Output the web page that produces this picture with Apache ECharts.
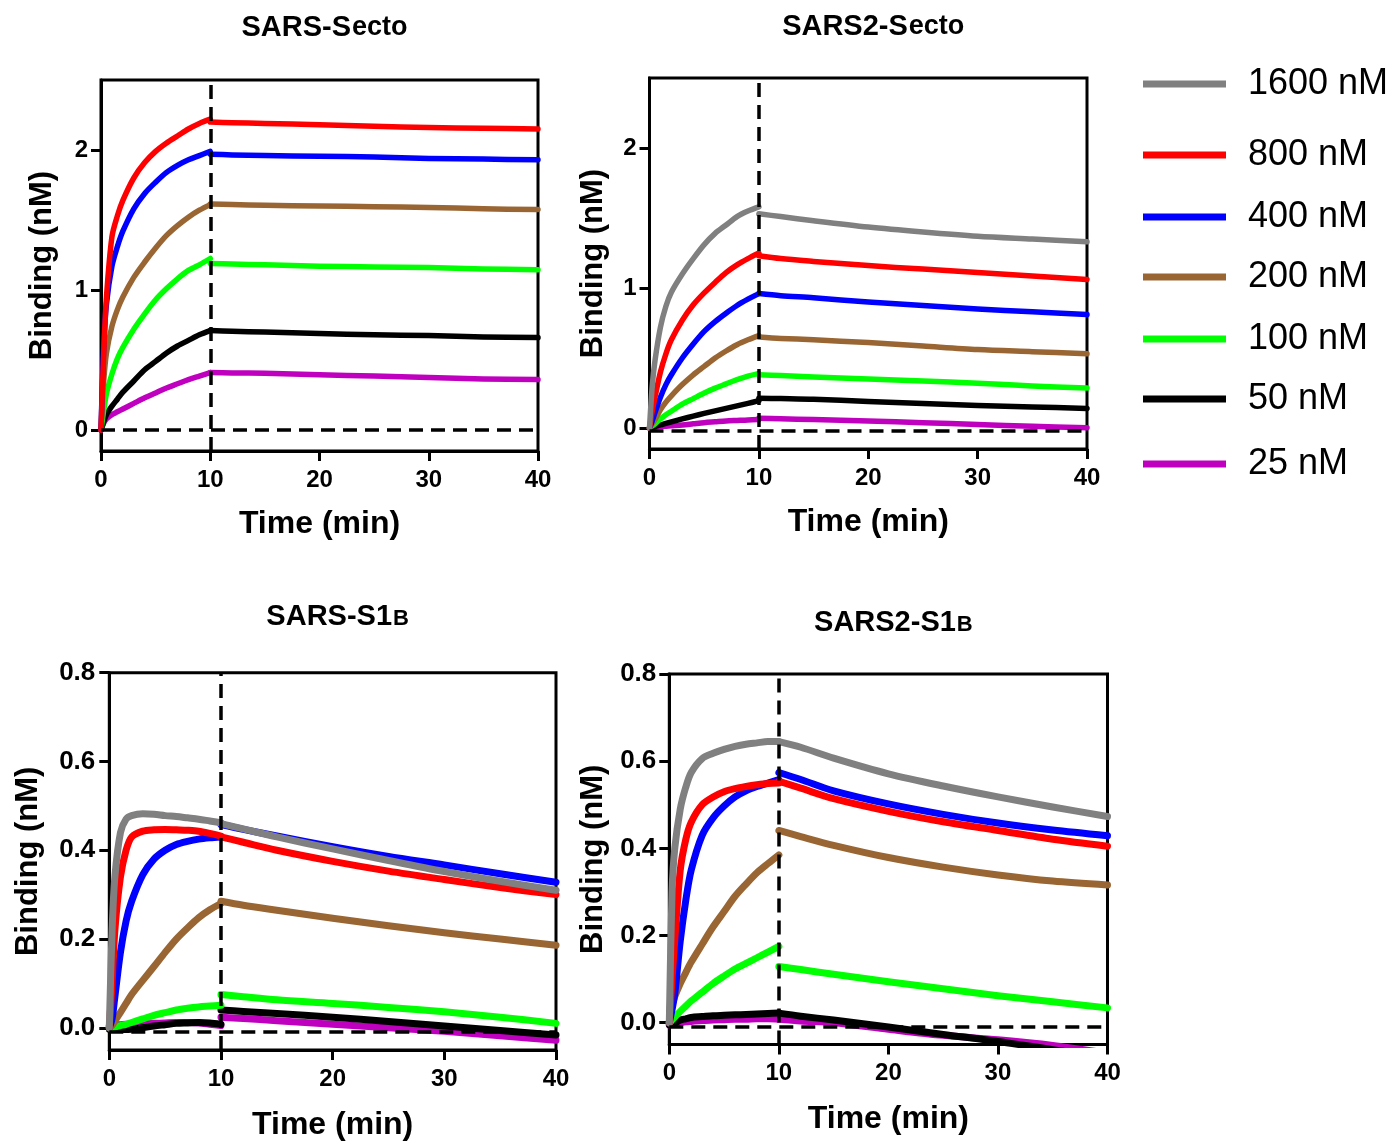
<!DOCTYPE html>
<html><head><meta charset="utf-8">
<script src="https://cdn.jsdelivr.net/npm/echarts@6/dist/echarts.min.js"></script>
<style>html,body{margin:0;padding:0;background:#fff}#c{width:1396px;height:1142px}</style>
</head><body><div id="c"></div>
<script>
// ---------- DATA ----------
const concentrations = ['1600 nM', '800 nM', '400 nM', '200 nM', '100 nM', '50 nM', '25 nM'];
const timeOn  = [0, 0.25, 0.5, 1, 1.5, 2, 3, 4, 5, 6, 7, 8, 9, 10];   // association phase (min)
const timeOff = [10, 12, 15, 20, 25, 30, 35, 40];                     // dissociation phase (min)
const xTicks = [0, 10, 20, 30, 40];
const yTicksSecto = [0, 1, 2];
const yTicksS1B = [0, 0.2, 0.4, 0.6, 0.8];
const injectionEnd = 10;
const baselines = [0, -0.02, -0.01, -0.01];

// Panel 1: SARS-Secto (no 1600 nM)
const p1On800  = [0, 0.55, 0.95, 1.38, 1.53, 1.64, 1.80, 1.91, 1.99, 2.05, 2.10, 2.15, 2.19, 2.22];
const p1Off800 = [2.20, 2.195, 2.19, 2.18, 2.17, 2.16, 2.155, 2.15];
const p1On400  = [0, 0.60, 0.90, 1.17, 1.31, 1.42, 1.58, 1.69, 1.77, 1.84, 1.89, 1.93, 1.96, 1.99];
const p1Off400 = [1.97, 1.965, 1.96, 1.955, 1.95, 1.94, 1.935, 1.93];
const p1On200  = [0, 0.35, 0.55, 0.74, 0.86, 0.95, 1.09, 1.20, 1.30, 1.39, 1.46, 1.52, 1.57, 1.61];
const p1Off200 = [1.615, 1.61, 1.605, 1.60, 1.595, 1.59, 1.58, 1.575];
const p1On100  = [0, 0.14, 0.26, 0.40, 0.51, 0.59, 0.72, 0.83, 0.93, 1.01, 1.08, 1.14, 1.18, 1.225];
const p1Off100 = [1.19, 1.185, 1.18, 1.17, 1.165, 1.16, 1.15, 1.145];
const p1On50   = [0, 0.06, 0.11, 0.17, 0.22, 0.27, 0.35, 0.43, 0.49, 0.55, 0.60, 0.64, 0.68, 0.71];
const p1Off50  = [0.71, 0.705, 0.70, 0.69, 0.68, 0.675, 0.665, 0.66];
const p1On25   = [0, 0.05, 0.08, 0.11, 0.13, 0.15, 0.19, 0.23, 0.265, 0.30, 0.33, 0.36, 0.385, 0.41];
const p1Off25  = [0.41, 0.408, 0.405, 0.395, 0.385, 0.375, 0.365, 0.36];

// Panel 2: SARS2-Secto
const p2On1600  = [0, 0.30, 0.48, 0.72, 0.87, 0.97, 1.10, 1.21, 1.31, 1.39, 1.45, 1.51, 1.55, 1.58];
const p2Off1600 = [1.53, 1.51, 1.48, 1.435, 1.40, 1.37, 1.35, 1.33];
const p2On800   = [0, 0.12, 0.22, 0.40, 0.53, 0.63, 0.77, 0.88, 0.965, 1.04, 1.11, 1.165, 1.21, 1.25];
const p2Off800  = [1.23, 1.21, 1.19, 1.16, 1.135, 1.11, 1.085, 1.06];
const p2On400   = [0, 0.05, 0.11, 0.22, 0.31, 0.38, 0.50, 0.60, 0.69, 0.76, 0.82, 0.875, 0.92, 0.96];
const p2Off400  = [0.96, 0.945, 0.93, 0.90, 0.875, 0.85, 0.83, 0.81];
const p2On200   = [0, 0.03, 0.06, 0.13, 0.185, 0.23, 0.31, 0.38, 0.44, 0.50, 0.55, 0.595, 0.63, 0.66];
const p2Off200  = [0.65, 0.64, 0.63, 0.61, 0.585, 0.56, 0.545, 0.53];
const p2On100   = [0, 0.015, 0.03, 0.065, 0.095, 0.12, 0.17, 0.21, 0.25, 0.285, 0.315, 0.345, 0.37, 0.39];
const p2Off100  = [0.38, 0.375, 0.365, 0.35, 0.335, 0.32, 0.30, 0.285];
const p2On50    = [0, 0.005, 0.01, 0.022, 0.033, 0.044, 0.065, 0.085, 0.104, 0.122, 0.14, 0.158, 0.176, 0.195];
const p2Off50   = [0.213, 0.21, 0.205, 0.19, 0.175, 0.16, 0.15, 0.14];
const p2On25    = [0, 0.003, 0.006, 0.01, 0.013, 0.016, 0.022, 0.03, 0.038, 0.044, 0.05, 0.054, 0.058, 0.06];
const p2Off25   = [0.07, 0.066, 0.06, 0.05, 0.038, 0.025, 0.012, 0.002];

// Panel 3: SARS-S1B
const p3On1600  = [0, 0.22, 0.34, 0.44, 0.47, 0.478, 0.482, 0.481, 0.478, 0.476, 0.473, 0.47, 0.466, 0.462];
const p3Off1600 = [0.46, 0.448, 0.43, 0.403, 0.377, 0.352, 0.33, 0.31];
const p3On800   = [0, 0.10, 0.22, 0.34, 0.40, 0.43, 0.443, 0.446, 0.447, 0.446, 0.445, 0.443, 0.438, 0.432];
const p3Off800  = [0.43, 0.418, 0.40, 0.375, 0.353, 0.334, 0.316, 0.30];
const p3On400   = [0, 0.02, 0.07, 0.17, 0.24, 0.285, 0.345, 0.38, 0.40, 0.413, 0.42, 0.425, 0.428, 0.43];
const p3Off400  = [0.458, 0.447, 0.432, 0.408, 0.386, 0.367, 0.347, 0.328];
const p3On200   = [0, 0.005, 0.015, 0.035, 0.055, 0.075, 0.107, 0.138, 0.17, 0.20, 0.225, 0.248, 0.266, 0.28];
const p3Off200  = [0.285, 0.276, 0.265, 0.247, 0.23, 0.214, 0.20, 0.186];
const p3On100   = [0, 0, 0.002, 0.005, 0.008, 0.012, 0.02, 0.028, 0.034, 0.04, 0.044, 0.047, 0.049, 0.051];
const p3Off100  = [0.075, 0.07, 0.063, 0.055, 0.046, 0.036, 0.024, 0.01];
const p3On50    = [-0.003, -0.003, -0.004, -0.004, -0.004, -0.003, 0.0, 0.004, 0.007, 0.01, 0.011, 0.012, 0.011, 0.008];
const p3Off50   = [0.04, 0.037, 0.032, 0.024, 0.014, 0.004, -0.006, -0.016];
const p3On25    = [0.004, 0.005, 0.006, 0.007, 0.008, 0.008, 0.009, 0.01, 0.011, 0.012, 0.012, 0.011, 0.008, 0.005];
const p3Off25   = [0.024, 0.021, 0.016, 0.008, 0.0, -0.008, -0.018, -0.028];

// Panel 4: SARS2-S1B
const p4On1600  = [0, 0.30, 0.40, 0.49, 0.54, 0.574, 0.606, 0.618, 0.627, 0.634, 0.639, 0.642, 0.645, 0.645];
const p4Off1600 = [0.645, 0.632, 0.607, 0.571, 0.543, 0.518, 0.495, 0.473];
const p4On800   = [0, 0.10, 0.19, 0.35, 0.42, 0.46, 0.50, 0.518, 0.53, 0.537, 0.542, 0.546, 0.549, 0.55];
const p4Off800  = [0.554, 0.538, 0.514, 0.485, 0.461, 0.441, 0.421, 0.405];
const p4On400   = [0, 0.03, 0.066, 0.187, 0.28, 0.35, 0.43, 0.47, 0.497, 0.518, 0.532, 0.542, 0.55, 0.558];
const p4Off400  = [0.574, 0.558, 0.532, 0.502, 0.478, 0.458, 0.442, 0.429];
const p4On200   = [0, 0.04, 0.06, 0.09, 0.115, 0.139, 0.18, 0.22, 0.255, 0.29, 0.318, 0.344, 0.365, 0.385];
const p4Off200  = [0.441, 0.427, 0.407, 0.379, 0.357, 0.339, 0.325, 0.316];
const p4On100   = [0, 0.006, 0.013, 0.026, 0.038, 0.05, 0.07, 0.09, 0.107, 0.123, 0.136, 0.149, 0.162, 0.175];
const p4Off100  = [0.129, 0.122, 0.111, 0.094, 0.078, 0.062, 0.048, 0.034];
const p4On50    = [-0.005, -0.004, -0.002, 0.006, 0.009, 0.012, 0.014, 0.016, 0.017, 0.018, 0.019, 0.02, 0.021, 0.022];
const p4Off50   = [0.022, 0.015, 0.006, -0.01, -0.027, -0.043, -0.062, -0.08];
const p4On25    = [-0.005, -0.004, -0.002, 0.0, 0.002, 0.003, 0.005, 0.006, 0.007, 0.008, 0.008, 0.009, 0.009, 0.008];
const p4Off25   = [0.008, 0.004, 0.0, -0.015, -0.029, -0.039, -0.052, -0.07];

// ---------- STYLE / LAYOUT ----------
const FONT = '"Liberation Sans", Arial, Helvetica, sans-serif';
const colors = {'1600 nM':'#808080','800 nM':'#ff0000','400 nM':'#0000ff','200 nM':'#996633','100 nM':'#00ff00','50 nM':'#000000','25 nM':'#bf00bf'};

const panels = [
  { title: ['SARS-S', 'ecto'], grid: {left:101, top:80, width:437, height:371}, y:[-0.15, 2.5], yTicks: yTicksSecto, lw:5.5, fmt: v => String(v), yGap:43, yMargin:13, xNameGap:57, titleTop:8,
    data: {'800 nM':[p1On800,p1Off800],'400 nM':[p1On400,p1Off400],'200 nM':[p1On200,p1Off200],'100 nM':[p1On100,p1Off100],'50 nM':[p1On50,p1Off50],'25 nM':[p1On25,p1Off25]} },
  { title: ['SARS2-S', 'ecto'], grid: {left:649.5, top:78, width:437.5, height:371}, y:[-0.15, 2.5], yTicks: yTicksSecto, lw:5.5, fmt: v => String(v), yGap:41, yMargin:13, xNameGap:57, titleTop:7,
    data: {'1600 nM':[p2On1600,p2Off1600],'800 nM':[p2On800,p2Off800],'400 nM':[p2On400,p2Off400],'200 nM':[p2On200,p2Off200],'100 nM':[p2On100,p2Off100],'50 nM':[p2On50,p2Off50],'25 nM':[p2On25,p2Off25]} },
  { title: ['SARS-S1', 'B'], grid: {left:109.3, top:672.7, width:446.7, height:378.3}, y:[-0.05, 0.8], yTicks: yTicksS1B, lw:7, fmt: v => v.toFixed(1), yGap:65, yMargin:14, xNameGap:59, titleTop:597,
    data: {'1600 nM':[p3On1600,p3Off1600],'800 nM':[p3On800,p3Off800],'400 nM':[p3On400,p3Off400],'200 nM':[p3On200,p3Off200],'100 nM':[p3On100,p3Off100],'50 nM':[p3On50,p3Off50],'25 nM':[p3On25,p3Off25]} },
  { title: ['SARS2-S1', 'B'], grid: {left:669.3, top:674, width:438.2, height:370.5}, y:[-0.05, 0.8], yTicks: yTicksS1B, lw:7, fmt: v => v.toFixed(1), yGap:60, yMargin:13, xNameGap:59, titleTop:603,
    data: {'1600 nM':[p4On1600,p4Off1600],'800 nM':[p4On800,p4Off800],'400 nM':[p4On400,p4Off400],'200 nM':[p4On200,p4Off200],'100 nM':[p4On100,p4Off100],'50 nM':[p4On50,p4Off50],'25 nM':[p4On25,p4Off25]} }
];

const grids = [], xAxes = [], yAxes = [], series = [], titles = [];
const drawOrder = concentrations.slice().reverse(); // 25 nM first, 1600 nM on top

panels.forEach((p, i) => {
  grids.push(Object.assign({show:true, borderColor:'#000', borderWidth:3, backgroundColor:'transparent', containLabel:false}, p.grid));
  xAxes.push({
    gridIndex:i, type:'value', min:0, max:40, interval:10,
    axisLine:{show:true, onZero:false, lineStyle:{color:'#000', width:3}},
    axisTick:{show:true, length:10, lineStyle:{color:'#000', width:3}, customValues: xTicks},
    axisLabel:{color:'#000', fontSize:24, fontWeight:'bold', fontFamily:FONT, margin:17, customValues: xTicks},
    splitLine:{show:false},
    name:'Time (min)', nameLocation:'middle', nameGap:p.xNameGap,
    nameTextStyle:{color:'#000', fontSize:32, fontWeight:'bold', fontFamily:FONT}
  });
  yAxes.push({
    gridIndex:i, type:'value', min:p.y[0], max:p.y[1],
    axisLine:{show:true, onZero:false, lineStyle:{color:'#000', width:3}},
    axisTick:{show:true, length:10, lineStyle:{color:'#000', width:3}, customValues: p.yTicks},
    axisLabel:{color:'#000', fontSize: i < 2 ? 24 : 26, fontWeight:'bold', fontFamily:FONT, margin:p.yMargin, customValues: p.yTicks, formatter: p.fmt},
    splitLine:{show:false},
    name:'Binding (nM)', nameLocation:'middle', nameGap:p.yGap, nameRotate:90,
    nameTextStyle:{color:'#000', fontSize:31, fontWeight:'bold', fontFamily:FONT}
  });
  const cx = p.grid.left + p.grid.width / 2;
  const small = p.title[1] === 'B' ? 22 : 27;
  titles.push({
    text: '{a|' + p.title[0] + '}{b|' + p.title[1] + '}',
    left: cx, top: p.titleTop, textAlign:'center',
    textStyle:{ rich:{
      a:{fontSize:29, fontWeight:'bold', color:'#000', fontFamily:FONT, verticalAlign:'bottom'},
      b:{fontSize:small, fontWeight:'bold', color:'#000', fontFamily:FONT, verticalAlign:'bottom', padding:[0,0,1,1]}
    }}
  });
  drawOrder.forEach(c => {
    const d = p.data[c];
    if (!d) return;
    [[timeOn, d[0]], [timeOff, d[1]]].forEach(([ts, vs]) => {
      series.push({
        type:'line', name:c, xAxisIndex:i, yAxisIndex:i,
        data: ts.map((t, k) => [t, vs[k]]),
        showSymbol:false, symbol:'none', smooth:0.3, clip:true,
        lineStyle:{color:colors[c], width:p.lw, cap:'round', join:'round'}, itemStyle:{color:colors[c]},
        silent:true, z:2
      });
    });
  });
  // reference dashed lines
  series.push({
    type:'line', xAxisIndex:i, yAxisIndex:i, data:[], silent:true, z:5,
    markLine:{
      symbol:['none','none'], silent:true, animation:false,
      label:{show:false},
      lineStyle:{color:'#000', width:3.5, type:[14,8]},
      data:[{xAxis: injectionEnd}, {yAxis: baselines[i]}]
    }
  });
});

const legendCenters = [84, 155, 217, 277, 339, 399, 464];
const legends = concentrations.map((c, k) => ({
  data:[c], left:1143, top: legendCenters[k] - 20, orient:'horizontal',
  icon:'rect', itemWidth:83, itemHeight:7, padding:0, selectedMode:false,
  textStyle:{color:'#000', fontSize:36, fontFamily:FONT, padding:[0,0,0,17], lineHeight:40}
}));

const chart = echarts.init(document.getElementById('c'), null, {renderer:'canvas'});
chart.setOption({
  animation:false, backgroundColor:'#fff',
  title: titles, grid: grids, xAxis: xAxes, yAxis: yAxes, legend: legends, series: series
});
</script></body></html>
